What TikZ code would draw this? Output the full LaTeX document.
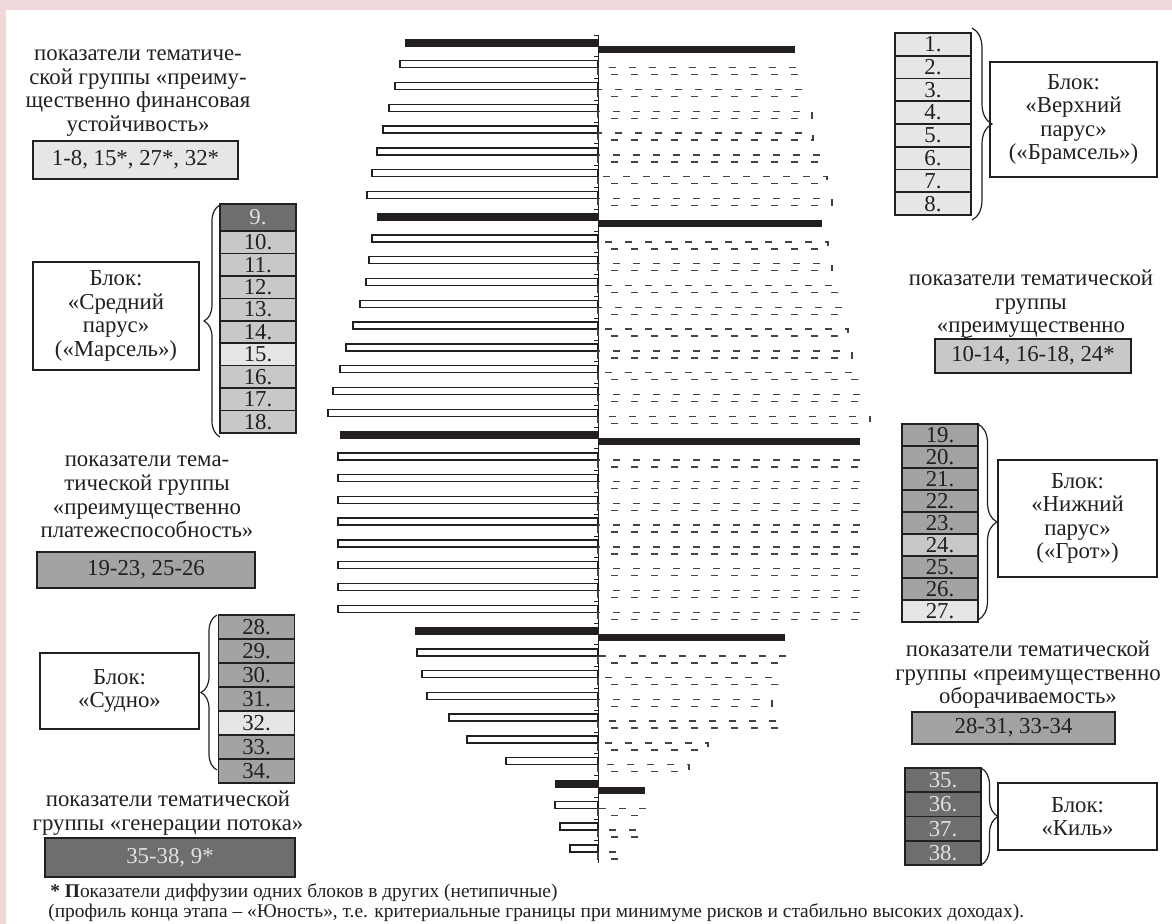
\documentclass[tikz,border=0pt]{standalone}
\usepackage{fontspec}
\usepackage{graphicx}
\setmainfont{Liberation Serif}
\usetikzlibrary{decorations.pathreplacing}
\definecolor{pinkbg}{RGB}{240,216,218}
\definecolor{gA}{RGB}{230,230,230}
\definecolor{gB}{RGB}{200,200,200}
\definecolor{gC}{RGB}{163,163,163}
\definecolor{gD}{RGB}{110,110,110}
\definecolor{ink}{RGB}{35,31,32}
\definecolor{lighttext}{RGB}{225,225,225}
\begin{document}
\begin{tikzpicture}[x=0.5pt,y=-0.5pt,
  txt/.style={align=center, font=\fontsize{11.4}{11.8}\selectfont, text=ink, inner sep=0pt},
  lbox/.style={draw=ink, line width=0.8pt, inner sep=0pt, align=center, font=\fontsize{11.4}{11.8}\selectfont, text=ink},
  cell/.style={draw=ink, line width=0.8pt, inner sep=0pt, minimum width=38pt, font=\fontsize{11.4}{11}\selectfont, text=ink},
  brc/.style={decorate, decoration={brace, amplitude=#1}, draw=ink, line width=0.6pt},
  wbar/.style={draw=ink, line width=0.7pt, fill=white},
  dbar/.style={draw=ink!85, line width=0.7pt, dash pattern=on 3.5pt off 6.5pt},
  fnote/.style={anchor=west, inner sep=0pt, text=ink, font=\fontsize{9.7}{10}\selectfont},
]
\fill[pinkbg] (0,0) rectangle (1172,924);
\fill[white] (6,10) rectangle (1172,924);
\useasboundingbox (0,0) rectangle (1172,924);

% ---------- central chart ----------
\draw[ink, line width=0.5pt] (598,35) -- (598,863);
\foreach \i in {1,...,38}{
  \pgfmathsetmacro\t{39+(\i-1)*21.78-4}
  \draw[ink, line width=0.4pt] (594,\t) -- (598,\t);
}
\foreach \i/\l/\r in {2/400/800,3/395/803,4/389/812,5/383/813,6/377/822,7/372/827,8/367/832,
  10/372/828,11/369/832,12/366/838,13/360/843,14/353/848,15/346/852,16/340/858,17/333/862,18/328/870,
  20/338/862,21/338/862,22/338/862,23/338/862,24/338/862,25/338/862,26/338/862,27/338/862,
  29/417/785,30/422/778,31/427/772,32/449/780,33/467/708,34/506/689,
  36/555/645,37/560/640,38/570/620}{
  \pgfmathsetmacro\t{39+(\i-1)*21.78}
  \draw[wbar] (\l,\t) rectangle (598,{\t+7});
  \draw[dbar] (598,{\t+7}) rectangle (\r,{\t+14});
}
\foreach \i/\l/\r in {1/405/795,9/377/822,19/340/860,28/415/785,35/555/645}{
  \pgfmathsetmacro\t{39+(\i-1)*21.78}
  \fill[ink] (\l,\t) rectangle (598,{\t+8});
  \fill[ink] (598,{\t+7}) rectangle (\r,{\t+14});
}

% ---------- top-left group ----------
\node[txt] (t1) at (138,93) {показатели тематиче-\\ской группы «преиму-\\щественно финансовая\\устойчивость»};
\node[lbox, fill=gA, minimum width=102.5pt, minimum height=19pt] (b1) at (135.5,160) {1-8, 15*, 27*, 32*};

% ---------- column 9-18 ----------
\node[cell, fill=gD, text=lighttext, minimum height=13.5pt] (c9) at (258,217.5) {9.};
\foreach \n/\c [count=\k from 0] in {10/gB,11/gB,12/gB,13/gB,14/gB,15/gA,16/gB,17/gB,18/gB}{
  \pgfmathsetmacro\yy{231+22.44*\k+11.22}
  \node[cell, fill=\c, minimum height=11.22pt] (c\n) at (258,\yy) {\n.};
}
\draw[brc=8pt] (220,437) -- (220,205);
\node[lbox, minimum width=83pt, minimum height=54pt] (mars) at (116,316) {Блок:\\«Средний\\парус»\\(«Марсель»)};

% ---------- column 1-8 ----------
\foreach \n [count=\k from 0] in {1,...,8}{
  \pgfmathsetmacro\yy{33+22.75*\k+11.375}
  \node[cell, fill=gA, minimum height=11.375pt] (c\n) at (933,\yy) {\n.};
}
\draw[brc=10pt] (972,28) -- (972,220);
\node[lbox, minimum width=83.5pt, minimum height=57.5pt] (bram) at (1073.5,119.5) {Блок:\\«Верхний\\парус»\\(«Брамсель»)};

% ---------- right group 10-14 ----------
\node[txt] (t2) at (1031,304) {показатели тематической\\группы\\«преимущественно};
\draw[ink, line width=0.6pt] (964,338) -- (972,336);
\node[lbox, fill=gB, minimum width=98pt, minimum height=17pt] (b2) at (1033,356) {10-14, 16-18, 24*};

% ---------- column 19-27 ----------
\foreach \n/\c [count=\k from 0] in {19/gC,20/gC,21/gC,22/gC,23/gC,24/gB,25/gC,26/gC,27/gA}{
  \pgfmathsetmacro\yy{424+22*\k+11}
  \node[cell, fill=\c, minimum height=11pt] (c\n) at (940,\yy) {\n.};
}
\draw[brc=9.5pt] (978,424) -- (978,620);
\node[lbox, minimum width=79.5pt, minimum height=58.5pt] (grot) at (1077.5,518.5) {Блок:\\«Нижний\\парус»\\(«Грот»)};

% ---------- left group 19-23 ----------
\node[txt] (t3) at (147,497) {показатели тема-\\тической группы\\«преимущественно\\платежеспособность»};
\node[lbox, fill=gC, minimum width=109pt, minimum height=18pt] (b3) at (146,570) {19-23, 25-26};

% ---------- column 28-34 ----------
\foreach \n/\c [count=\k from 0] in {28/gC,29/gC,30/gC,31/gC,32/gA,33/gC,34/gC}{
  \pgfmathsetmacro\yy{615+24*\k+12}
  \node[cell, fill=\c, minimum height=12pt] (c\n) at (256.5,\yy) {\n.};
}
\draw[brc=8pt] (217,770) -- (217,615);
\node[lbox, minimum width=79.5pt, minimum height=38pt] (sudno) at (119.5,691) {Блок:\\«Судно»};

% ---------- right group 28-31 ----------
\node[txt] (t4) at (1028,675) {показатели тематической\\группы «преимущественно\\оборачиваемость»};
\node[lbox, fill=gC, minimum width=101.5pt, minimum height=16pt] (b4) at (1013.5,728) {28-31, 33-34};

% ---------- column 35-38 ----------
\foreach \n [count=\k from 0] in {35,...,38}{
  \pgfmathsetmacro\yy{768+24.25*\k+12.125}
  \node[cell, fill=gD, text=lighttext, minimum height=12.125pt] (c\n) at (943,\yy) {\n.};
}
\draw[brc=8.5pt] (981,768) -- (981,865);
\node[lbox, minimum width=79.5pt, minimum height=33.5pt] (kil) at (1077.5,816.5) {Блок:\\«Киль»};

% ---------- bottom-left group ----------
\node[txt] (t5) at (168,813) {показатели тематической\\группы «генерации потока»};
\node[lbox, fill=gD, text=lighttext, minimum width=125pt, minimum height=19.5pt] (b5) at (170,857.5) {35-38, 9*};

% ---------- footnote ----------
\node[fnote] (fn1) at (50,893) {\textbf{* П}оказатели диффузии одних блоков в других (нетипичные)};
\node[fnote] (fn2) at (48,913) {(профиль конца этапа – «Юность», т.е. критериальные границы при минимуме рисков и стабильно высоких доходах).};
\end{tikzpicture}
\end{document}
